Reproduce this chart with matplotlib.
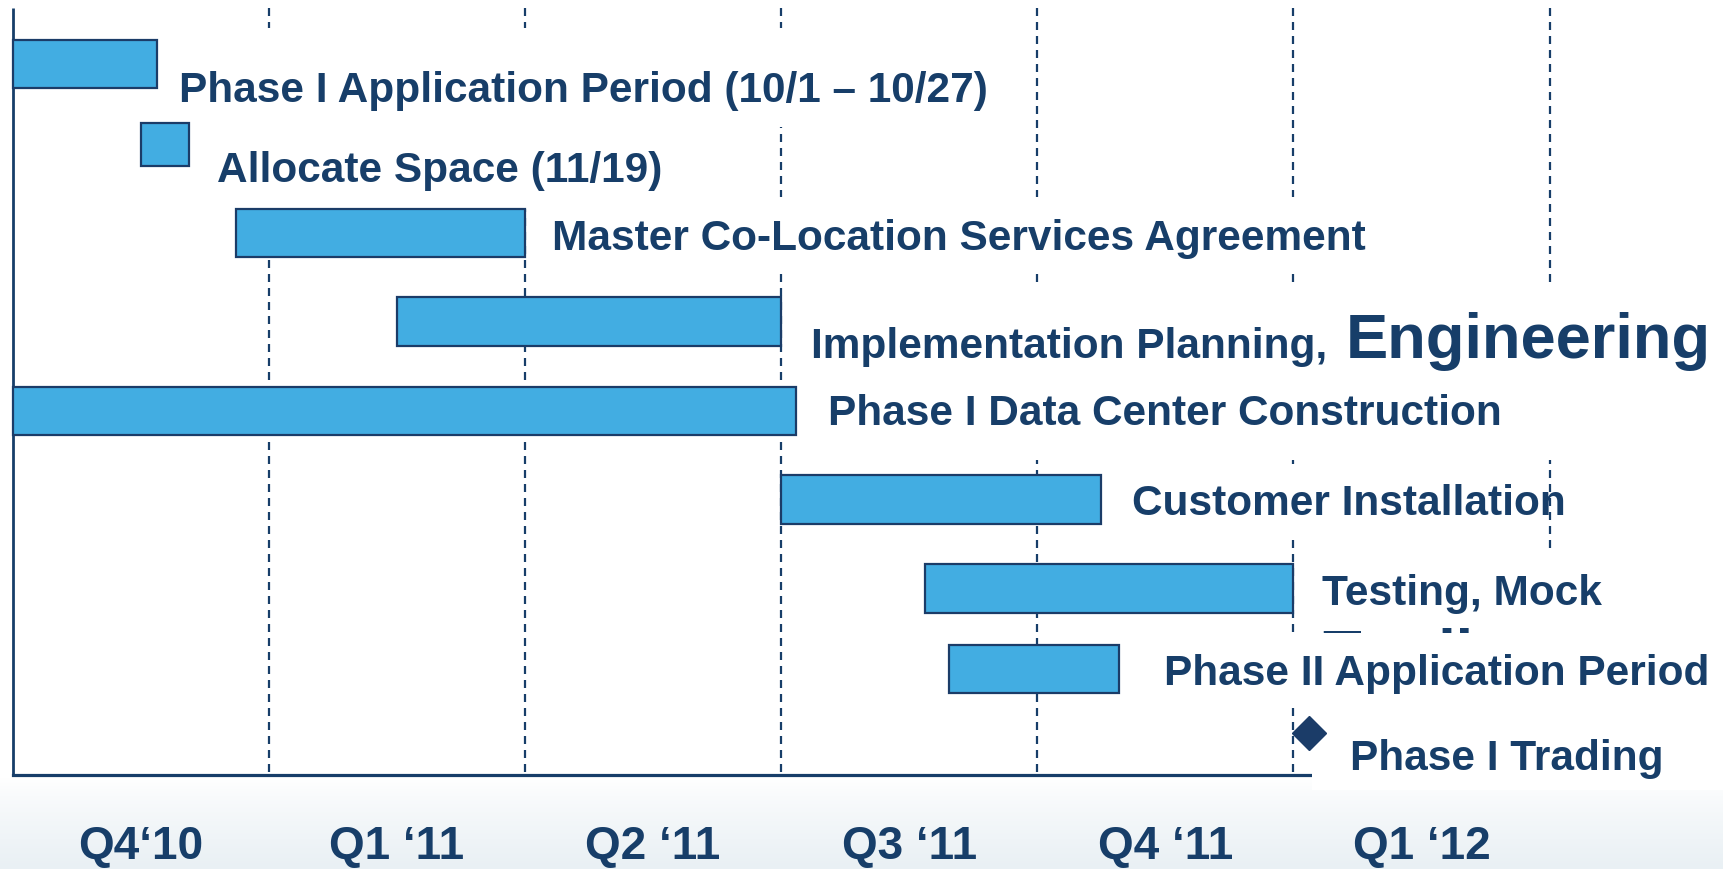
import matplotlib.pyplot as plt
import numpy as np
from matplotlib.patches import Rectangle
from matplotlib.colors import LinearSegmentedColormap

# --- data (x in quarters, 0 = start of Q4 2010) ---
tasks = [
    "Phase I Application Period (10/1 \u2013 10/27)",
    "Allocate Space (11/19)",
    "Master Co-Location Services Agreement",
    "Implementation Planning, ",
    "Phase I Data Center Construction",
    "Customer Installation",
    "Testing, Mock",
    "Phase II Application Period",
]
starts = [0.0, 0.50, 0.872, 1.50, 0.0, 3.0, 3.56, 3.655]
ends = [0.564, 0.69, 2.0, 3.0, 3.06, 4.249, 5.0, 4.32]
milestone_name = "Phase I Trading"
milestone_at = 5.06
quarters = ["Q4\u201810", "Q1 \u201811", "Q2 \u201811", "Q3 \u201811", "Q4 \u201811", "Q1 \u201812"]

# --- layout (pixels of the 1724x869 canvas) ---
W, H = 1724, 869
X0, QW = 12.5, 256.2          # left axis pixel, pixels per quarter
def X(px):
    return (px - X0) / QW

row_y = [64, 144.5, 233, 321.5, 411, 499.5, 588.5, 669]
bar_h = [48, 43, 48, 49, 48, 49, 49, 48]
mile_y = 733
label_x = [179, 217, 552, 811, 828, 1132, 1322, 1164, 1350]
label_base = [102, 182, 250, 358, 425, 515, 605, 685, 770]
# white text boxes from the slide (x0, x1, y0, y1)
boxes = [(170, 1010, 28, 127), (205, 770, 127, 209), (530, 1420, 197, 273),
         (795, W, 282, 380), (815, W, 380, 460), (1115, 1500, 465, 538),
         (1305, W, 548, 633), (1150, W, 633, 707), (1312, W, 707, 790)]

navy = '#173e69'
edge = '#1b3c68'
fill = '#42ade2'
font = 'Liberation Sans'

fig = plt.figure(figsize=(W / 100, H / 100), dpi=100)
ax = fig.add_axes([0, 0, 1, 1])
ax.set_xlim(X(0), X(W))
ax.set_ylim(H, 0)
ax.axis('off')

# bottom gradient
grad = np.linspace(0, 1, 100).reshape(-1, 1) ** 0.8
cmap = LinearSegmentedColormap.from_list('bg', ['#ffffff', '#e9f0f4'])
ax.imshow(grad, cmap=cmap, aspect='auto', extent=(X(0), X(W), H, 778), zorder=0)

# quarter dashed lines
for q in range(1, 7):
    ax.plot([q, q], [8, 775], color=navy, lw=1.6,
            linestyle=(0, (3.6, 2.7)), zorder=1)

# axes lines
ax.plot([0, 0], [8, 776], color=navy, lw=2.0, zorder=1.5, solid_capstyle='butt')
ax.plot([0, X(W)], [775, 775], color=navy, lw=2.3, zorder=1.5)

# white text boxes
for i, (x0, x1, y0, y1) in enumerate(boxes):
    z = 1.8 if i == 6 else 2
    ax.add_patch(Rectangle((X(x0), y0), X(x1) - X(x0), y1 - y0,
                           facecolor='white', edgecolor='none', zorder=z, clip_on=False))

# bars
ax.barh(row_y, np.array(ends) - np.array(starts), left=starts, height=bar_h,
        color=fill, edgecolor=edge, linewidth=1.6, zorder=3)
ax.plot([milestone_at], [mile_y], marker='D', markersize=17, color=edge, zorder=3)

# labels
kw = dict(color=navy, fontfamily=font, fontweight='bold', va='baseline', zorder=4)
for name, x, y in zip(tasks + [milestone_name], label_x, label_base):
    ax.text(X(x), y, name, fontsize=30.5, **kw)
ax.text(X(1346), 358, "Engineering", fontsize=45.5, **kw)
# second line of the testing label, mostly hidden behind the next text box
kw['zorder'] = 1.9
ax.text(X(1322), 674, "Trading", fontsize=45.5, **kw)
kw['zorder'] = 4

# quarter labels
for i, name in enumerate(quarters):
    ax.text(i + 0.5, 859, name, fontsize=33, ha='center', **kw)

fig.savefig('out.png', dpi=100)
